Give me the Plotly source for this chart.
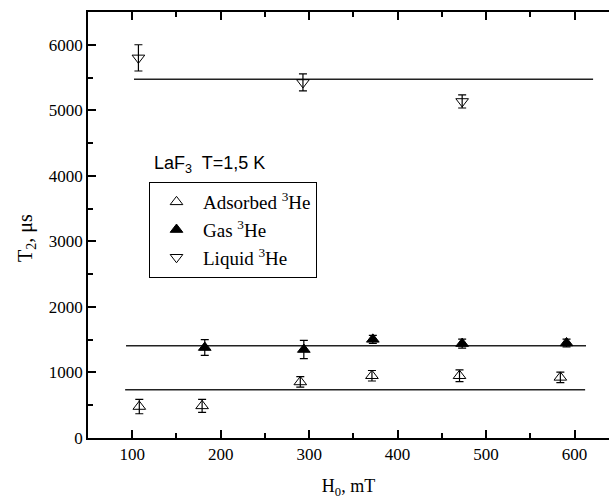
import plotly.graph_objects as go

# --- data ---
ads_x = [108, 179, 290, 371, 470, 584]
ads_y = [480, 490, 855, 950, 950, 925]
ads_err = [110, 100, 80, 80, 90, 80]

gas_x = [182, 294, 372, 473, 591]
gas_y = [1380, 1350, 1505, 1440, 1450]
gas_err = [120, 140, 60, 70, 60]

liq_x = [107, 293, 473]
liq_y = [5800, 5425, 5135]
liq_err = [200, 130, 100]

ads_fit_x = [92, 612]
ads_fit_y = [737, 737]
gas_fit_x = [93, 613]
gas_fit_y = [1408, 1408]
liq_fit_x = [102, 621]
liq_fit_y = [5475, 5475]

x_range = [50, 639]
y_range = [0, 6500]

serif = "Liberation Serif"
sans = "Liberation Sans"

fig = go.Figure()

for fx, fy in [(ads_fit_x, ads_fit_y), (gas_fit_x, gas_fit_y), (liq_fit_x, liq_fit_y)]:
    fig.add_trace(go.Scatter(x=fx, y=fy, mode="lines",
                             line=dict(color="#222222", width=1.5),
                             showlegend=False, hoverinfo="skip"))

def pts(x, y, err, sym, name, grp):
    return go.Scatter(
        x=x, y=y, mode="markers", name=name, legendgroup=grp,
        marker=dict(symbol=sym, size=11, color="black",
                    line=dict(color="black", width=1)),
        error_y=dict(type="data", array=err, visible=True,
                     color="black", thickness=1.2, width=4),
    )

fig.add_trace(pts(ads_x, ads_y, ads_err, "triangle-up-open", "Adsorbed <sup>3</sup>He", "a"))
fig.add_trace(pts(gas_x, gas_y, gas_err, "triangle-up", "Gas <sup>3</sup>He", "b"))
fig.add_trace(pts(liq_x, liq_y, liq_err, "triangle-down-open", "Liquid <sup>3</sup>He", "c"))

fig.add_annotation(text="LaF<sub>3</sub>  T=1,5 K", xref="paper", yref="paper",
                   x=(152 - 88) / 521, y=(438 - 151) / 426, xanchor="left", yanchor="top",
                   showarrow=False, font=dict(family=sans, size=18, color="black"))

# y-axis title (placed as in the reference, slightly below the axis centre)
fig.add_annotation(text="T<sub>2</sub>, μs", xref="paper", yref="paper",
                   x=(26 - 88) / 521, y=(438 - 238) / 426, xanchor="center", yanchor="middle",
                   textangle=-90, showarrow=False,
                   font=dict(family=serif, size=20, color="black"))

tickfont = dict(family=serif, size=17, color="black")

fig.update_layout(
    width=609, height=499,
    margin=dict(l=88, r=0, t=12, b=61),
    paper_bgcolor="white", plot_bgcolor="white",
    font=dict(family=serif, size=17, color="black"),
    legend=dict(x=(149 - 88) / 521, y=(438 - 182) / 426, xanchor="left", yanchor="top",
                bordercolor="black", borderwidth=1, bgcolor="white",
                font=dict(family=serif, size=19, color="black"),
                traceorder="grouped", tracegroupgap=0, itemwidth=43),
    xaxis=dict(range=x_range, showline=True, linecolor="black", linewidth=1.5,
               mirror="allticks", ticks="inside", ticklen=8, tickwidth=1.5, tickcolor="black",
               tick0=0, dtick=100, showgrid=False, zeroline=False, tickfont=tickfont,
               minor=dict(ticks="inside", ticklen=5, tickwidth=1.5, dtick=50, tickcolor="black", showgrid=False),
               title=dict(text="H<sub>0</sub>, mT", standoff=17, font=dict(family=serif, size=18))),
    yaxis=dict(range=y_range, showline=True, linecolor="black", linewidth=1.5,
               mirror=False, ticks="inside", ticklen=8, tickwidth=1.5, tickcolor="black",
               tick0=0, dtick=1000, showgrid=False, zeroline=False, tickfont=tickfont,
               minor=dict(ticks="inside", ticklen=5, tickwidth=1.5, dtick=500, tickcolor="black", showgrid=False)),
)

fig.write_html("out.html", config={"displayModeBar": False})

# remove default page margins so the 609x499 figure fills the window exactly
with open("out.html", "r", encoding="utf-8") as f:
    html = f.read()
html = html.replace("<head>", "<head><style>html,body{margin:0;padding:0;overflow:hidden;}</style>", 1)
with open("out.html", "w", encoding="utf-8") as f:
    f.write(html)
